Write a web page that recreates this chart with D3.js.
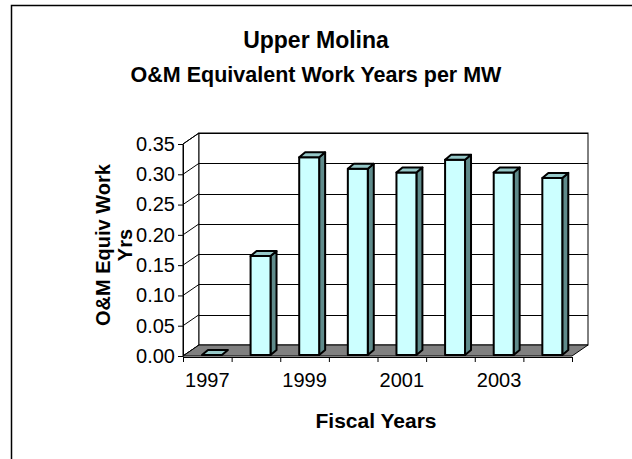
<!DOCTYPE html>
<html>
<head>
<meta charset="utf-8">
<script src="https://cdn.jsdelivr.net/npm/d3@7"></script>
<style>
  body { margin: 0; background: #fff; }
  text { font-family: "Liberation Sans", Arial, sans-serif; }
</style>
</head>
<body>
<div id="chart"></div>
<script>
// data
var years = ["1997", "1998", "1999", "2000", "2001", "2002", "2003", "2004"];
var workYears = [0, 0.165, 0.328, 0.309, 0.303, 0.324, 0.303, 0.294];
var yTicks = [0, 0.05, 0.10, 0.15, 0.20, 0.25, 0.30, 0.35];
var xLabels = ["1997", "1999", "2001", "2003"];

var W = 632, H = 459;
var depth = {dx: 16, dy: -11},   // back wall offset
    barDepth = {dx: 6, dy: -5};

var svg = d3.select("#chart").append("svg")
    .attr("width", W)
    .attr("height", H);

// outer chart border (right/bottom edges fall outside the picture)
svg.append("rect")
    .attr("x", 11.5).attr("y", 5.5)
    .attr("width", 700).attr("height", 600)
    .attr("fill", "#fff").attr("stroke", "#000").attr("stroke-width", 1.5);

var x = d3.scaleBand()
    .domain(years)
    .range([183, 572]);

var y = d3.scaleLinear()
    .domain([0, 0.35])
    .range([356, 144]);

var x0 = x.range()[0], x1 = x.range()[1], y0 = y(0), yTop = y(0.35);

function pts(a) { return a.map(function(p) { return p.join(","); }).join(" "); }

// left side wall
svg.append("polygon")
    .attr("points", pts([[x0, y0], [x0, yTop], [x0 + depth.dx, yTop + depth.dy], [x0 + depth.dx, y0 + depth.dy]]))
    .attr("fill", "#fff").attr("stroke", "#000");

// back wall
svg.append("rect")
    .attr("x", x0 + depth.dx).attr("y", yTop + depth.dy)
    .attr("width", x1 - x0).attr("height", y0 - yTop)
    .attr("fill", "#fff").attr("stroke", "#000");

// gridlines: back wall + side wall diagonals
var grid = svg.append("g").attr("stroke", "#000").attr("stroke-width", 1);
grid.selectAll(".gb")
    .data(yTicks)
  .enter().append("line")
    .attr("x1", x0 + depth.dx).attr("x2", x1 + depth.dx)
    .attr("y1", function(d) { return Math.round(y(d) + depth.dy) + 0.5; })
    .attr("y2", function(d) { return Math.round(y(d) + depth.dy) + 0.5; });
grid.selectAll(".gs")
    .data(yTicks)
  .enter().append("line")
    .attr("x1", x0).attr("y1", function(d) { return y(d); })
    .attr("x2", x0 + depth.dx).attr("y2", function(d) { return y(d) + depth.dy; });

// floor
svg.append("polygon")
    .attr("points", pts([[x0, y0], [x1, y0], [x1 + depth.dx, y0 + depth.dy], [x0 + depth.dx, y0 + depth.dy]]))
    .attr("fill", "#808080").attr("stroke", "#000");

// bars
var bw = x.bandwidth();
var bars = svg.append("g")
    .attr("stroke", "#000").attr("stroke-width", 2).attr("stroke-linejoin", "round");

years.forEach(function(yr, i) {
  var v = workYears[i];
  var l = x(yr) + bw * 0.39, r = l + bw * 0.41, t = y(v), b = y0 - 1;
  var tt = Math.min(t, b);
  if (v > 0) {
    bars.append("polygon")
        .attr("points", pts([[r, b], [r, t], [r + barDepth.dx, t + barDepth.dy], [r + barDepth.dx, b + barDepth.dy]]))
        .attr("fill", "#5f8b8b");
    bars.append("rect")
        .attr("x", l).attr("y", t).attr("width", r - l).attr("height", b - t)
        .attr("fill", "#ccffff");
  }
  bars.append("polygon")
      .attr("points", pts([[l, tt], [r, tt], [r + barDepth.dx, tt + barDepth.dy], [l + barDepth.dx, tt + barDepth.dy]]))
      .attr("fill", "#96c8c8");
});

// y axis
svg.append("g")
    .attr("transform", "translate(" + x0 + ",0)")
    .call(d3.axisLeft(y).tickValues(yTicks).tickFormat(d3.format(".2f")).tickSize(5).tickPadding(3).tickSizeOuter(0))
    .call(function(g) {
      g.selectAll("text").attr("font-size", 20).attr("fill", "#000")
          .style("font-family", "Liberation Sans, Arial, sans-serif");
      g.selectAll("line, path").attr("stroke", "#000");
    });

// x axis: ticks on category boundaries, labels on every other category
var xIdx = d3.scaleLinear().domain([0, years.length]).range([x0, x1]);
svg.append("g")
    .attr("transform", "translate(0," + (y0 + 1) + ")")
    .call(d3.axisBottom(xIdx).tickValues(d3.range(years.length + 1)).tickFormat("").tickSize(5).tickSizeOuter(0))
    .call(function(g) { g.selectAll("line, path").attr("stroke", "#000"); });

svg.append("g").selectAll("text")
    .data(xLabels)
  .enter().append("text")
    .attr("x", function(d) { return x(d) + bw / 2; })
    .attr("y", 387)
    .attr("text-anchor", "middle")
    .attr("font-size", 20)
    .text(function(d) { return d; });

// titles
var title = svg.append("g").attr("font-weight", "bold").attr("text-anchor", "middle");
title.append("text").attr("x", 316).attr("y", 48).attr("font-size", 23).text("Upper Molina");
title.append("text").attr("x", 316).attr("y", 82).attr("font-size", 21.5).text("O&M Equivalent Work Years per MW");

svg.append("text")
    .attr("x", 376).attr("y", 428)
    .attr("text-anchor", "middle").attr("font-weight", "bold").attr("font-size", 21)
    .text("Fiscal Years");

var yt = svg.append("text")
    .attr("transform", "translate(110,245) rotate(-90)")
    .attr("text-anchor", "middle").attr("font-weight", "bold").attr("font-size", 20);
yt.append("tspan").attr("x", 0).attr("dy", 0).text("O&M Equiv Work");
yt.append("tspan").attr("x", 0).attr("dy", 22).text("Yrs");
</script>
</body>
</html>
